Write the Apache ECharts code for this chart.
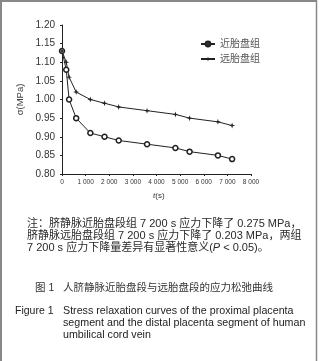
<!DOCTYPE html>
<html><head><meta charset="utf-8">
<script src="https://cdn.jsdelivr.net/npm/echarts@6/dist/echarts.min.js"></script>
<style>html,body{margin:0;padding:0;background:#fff}#c{width:322px;height:361px}</style>
</head><body><div id="c"></div>
<script>
const timeS = [0, 180, 300, 600, 1200, 1800, 2400, 3600, 4800, 5400, 6600, 7200];
const proximal = [1.13, 1.08, 1.00, 0.95, 0.91, 0.90, 0.89, 0.88, 0.87, 0.86, 0.85, 0.84];
const distal = [1.13, 1.10, 1.06, 1.02, 1.00, 0.99, 0.98, 0.97, 0.96, 0.95, 0.94, 0.93];
const seriesNames = ['近胎盘组', '远胎盘组'];
const noteLines = [
  '注：脐静脉近胎盘段组 7 200 s 应力下降了 0.275 MPa，',
  '脐静脉远胎盘段组 7 200 s 应力下降了 0.203 MPa，两组',
  '7 200 s 应力下降量差异有显著性意义({i|P} < 0.05)。'
];
const captionCn = '图 1   人脐静脉近胎盘段与远胎盘段的应力松弛曲线';
const captionEnLabel = 'Figure 1';
const captionEn = ['Stress relaxation curves of the proximal placenta', 'segment and the distal placenta segment of human', 'umbilical cord vein'];

const font = 'Liberation Sans, Arial, "Noto Sans CJK SC", sans-serif';
const chart = echarts.init(document.getElementById('c'), null, {renderer: 'canvas'});
const star = 'path://M0,-5 L1.2,-1.2 L5,0 L1.2,1.2 L0,5 L-1.2,1.2 L-5,0 L-1.2,-1.2 Z';
const textColor = '#333';
const graphics = [
  {type: 'line', shape: {x1: 1, y1: 0, x2: 1, y2: 361}, style: {stroke: '#888', lineWidth: 2}},
  {type: 'line', shape: {x1: 0, y1: 1, x2: 317, y2: 1}, style: {stroke: '#888', lineWidth: 2}},
  {type: 'line', shape: {x1: 316.5, y1: 0, x2: 316.5, y2: 361}, style: {stroke: '#888', lineWidth: 1.5}},
  {type: 'text', left: 153, top: 192, style: {text: '{i|t}(s)', font: '8px ' + font, fill: textColor, rich: {i: {fontStyle: 'italic', fontSize: 8, fontFamily: font}}}}
];
noteLines.forEach((t, i) => {
  graphics.push({type: 'text', left: 27, top: 218 + i * 12, style: {text: t, font: '11px ' + font, fill: '#2a2a2a',
    rich: {i: {fontStyle: 'italic', fontSize: 11, fontFamily: font, fill: '#2a2a2a'}}}});
});
graphics.push({type: 'text', left: 35, top: 283, style: {text: captionCn, font: '10.5px ' + font, fill: '#333'}});
graphics.push({type: 'text', left: 15, top: 306, style: {text: captionEnLabel, font: '10.5px ' + font, fill: '#222'}});
captionEn.forEach((t, i) => {
  graphics.push({type: 'text', left: 63, top: 306 + i * 12, style: {text: t, font: '10.7px ' + font, fill: '#222'}});
});

chart.setOption({
  animation: false,
  grid: {left: 62, right: 71, top: 25, bottom: 187},
  legend: {
    orient: 'vertical', left: 195, top: 34, itemGap: 5, itemWidth: 14, itemHeight: 6,
    textStyle: {fontSize: 10, color: '#555', fontFamily: font},
    data: [
      {name: seriesNames[0], itemStyle: {color: '#333', borderColor: '#222'}},
      {name: seriesNames[1]}
    ]
  },
  xAxis: {
    type: 'value', min: 0, max: 8000, interval: 1000,
    axisLine: {lineStyle: {color: '#222', width: 1}},
    axisTick: {show: true, length: 2, lineStyle: {color: '#222'}},
    splitLine: {show: false},
    axisLabel: {fontSize: 6.5, color: '#333', fontFamily: font, margin: 5,
      formatter: v => v === 0 ? '0' : String(v).replace(/(\d)(\d{3})$/, '$1 $2')}
  },
  yAxis: {
    type: 'value', min: 0.80, max: 1.20, interval: 0.05,
    name: 'σ(MPa)', nameLocation: 'middle', nameGap: 36, nameRotate: 90,
    nameTextStyle: {fontSize: 9.5, color: '#444', fontFamily: font},
    axisLine: {show: true, lineStyle: {color: '#222', width: 1}},
    axisTick: {show: true, length: 2, lineStyle: {color: '#222'}},
    splitLine: {show: false},
    axisLabel: {fontSize: 10, color: '#333', fontFamily: font, margin: 7, formatter: v => v.toFixed(2)}
  },
  series: [
    {name: seriesNames[0], type: 'line', data: timeS.map((t, i) => [t, proximal[i]]),
     symbol: 'circle', symbolSize: 5, showAllSymbol: true,
     lineStyle: {color: '#222', width: 1}, itemStyle: {color: '#fff', borderColor: '#222', borderWidth: 1.5}},
    {name: seriesNames[1], type: 'line', data: timeS.map((t, i) => [t, distal[i]]),
     symbol: star, symbolSize: 6, showAllSymbol: true,
     lineStyle: {color: '#222', width: 1}, itemStyle: {color: '#222', borderWidth: 0}}
  ],
  graphic: graphics
});
</script></body></html>
